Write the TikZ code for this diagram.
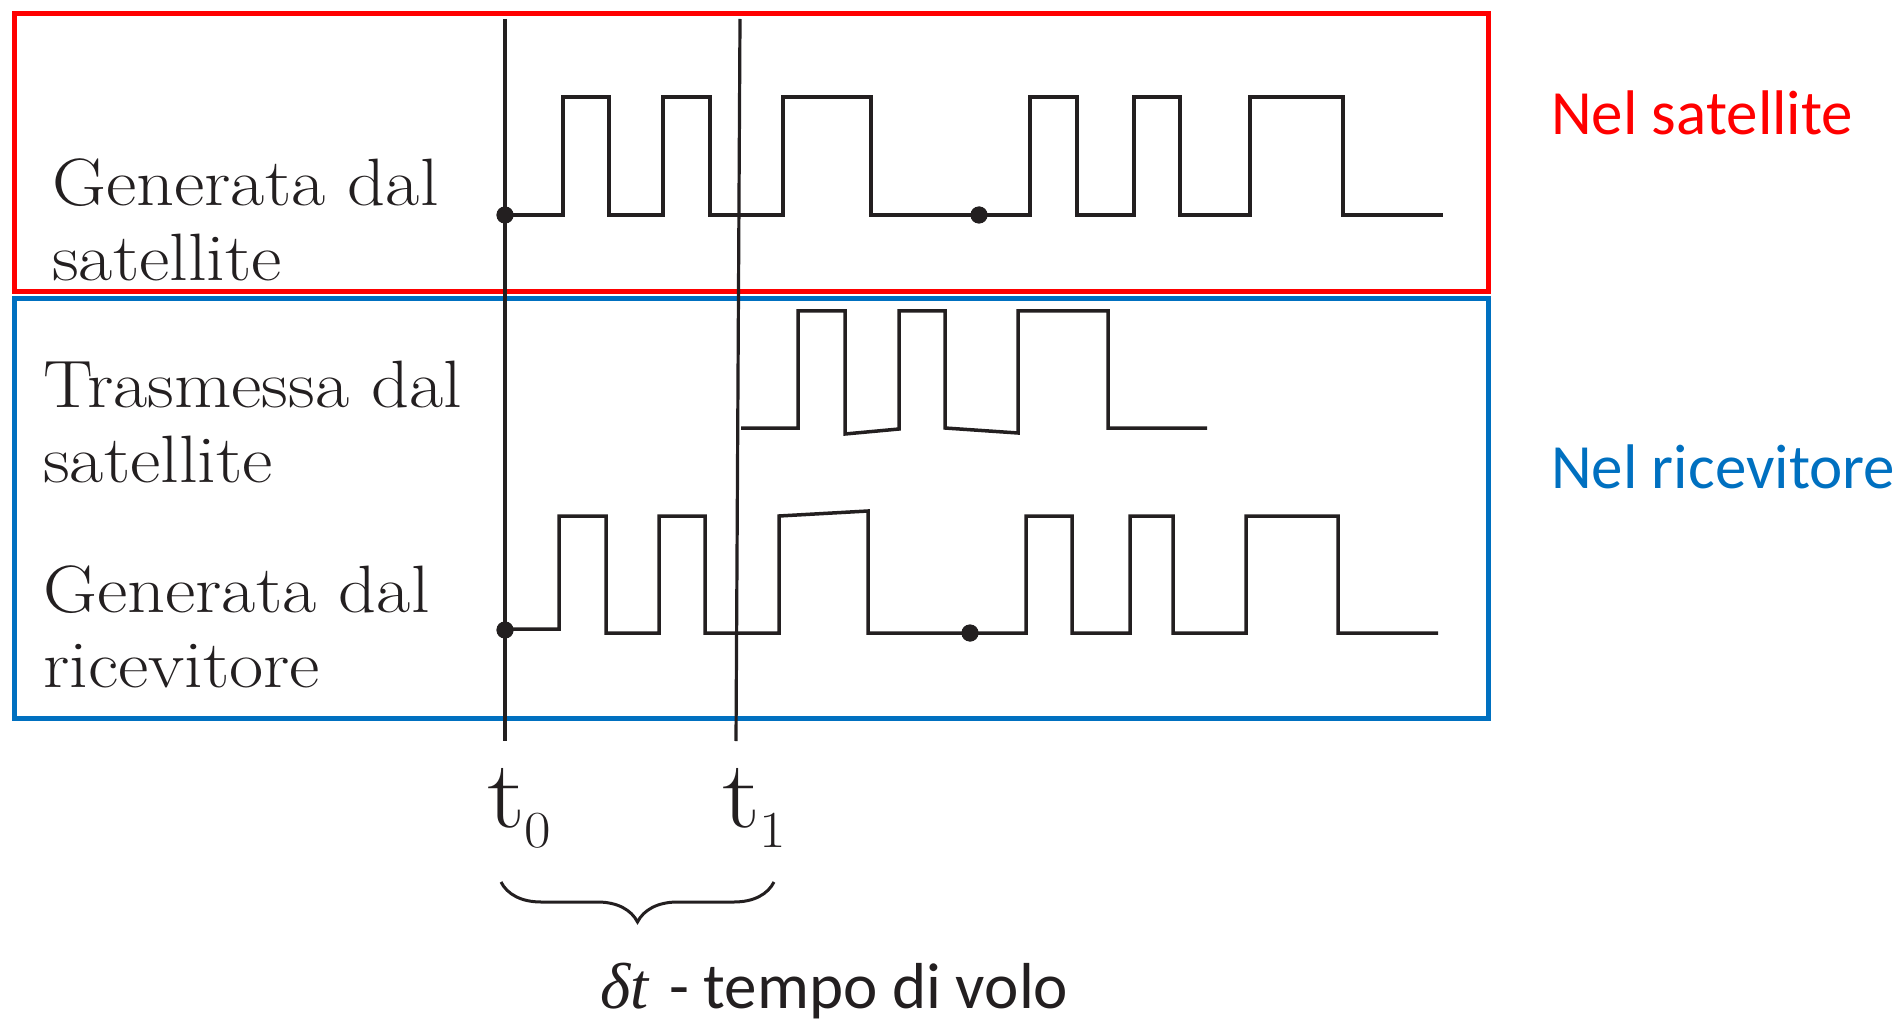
\documentclass[tikz,border=0pt]{standalone}
\usepackage{fontspec}
\newfontfamily\calibri{Carlito}
\newfontfamily\deltafont{Liberation Serif}
\newfontfamily\widefont[FakeStretch=1.11]{Latin Modern Roman}
\usepackage{xcolor}
\usetikzlibrary{decorations.pathreplacing}

\definecolor{ink}{RGB}{35,31,32}
\definecolor{satred}{RGB}{255,0,0}
\definecolor{ricblue}{RGB}{0,112,192}

% time label: big upright t with a lowered index
\newcommand{\tlab}[1]{{\fontsize{96}{96}\selectfont t}\raisebox{-20pt}{\fontsize{52}{52}\selectfont #1}}

\begin{document}
\begin{tikzpicture}[
      x=1pt, y=-1pt,
      frame/.style={draw, line width=5pt},
      sig/.style={draw=ink, line width=3.5pt},
      tline/.style={draw=ink, line width=3.2pt},
      dot/.style={circle, fill=ink, inner sep=0pt, minimum size=17pt},
      lbl/.style={font=\widefont\fontsize{67}{75}\selectfont, text=ink, align=left,
                  anchor=base west, inner sep=0pt},
      side/.style={font=\calibri\fontsize{63}{63}\selectfont, anchor=base west,
                   inner sep=0pt},
      tlbl/.style={font=\widefont, text=ink, anchor=base west, inner sep=0pt}]

    \useasboundingbox (0,0) rectangle (1901,1024);

    % the two places: satellite and receiver
    \draw[frame, satred] (14,14) rectangle (1488,292);
    \draw[frame, ricblue] (14,299) rectangle (1488,718);

    % anchors sit on the baseline of the second line
    \node[lbl] (gensat) at (52,281) {Generata dal\\satellite};
    \node[lbl] (trasat) at (43,482) {Trasmessa dal\\satellite};
    \node[lbl] (genric) at (43,687) {Generata dal\\ricevitore};

    \node[side, satred] (nelsat) at (1551,135) {Nel satellite};
    \node[side, ricblue] (nelric) at (1551,488) {Nel ricevitore};

    % time markers
    \coordinate (t0top) at (505,19);
    \coordinate (t0bot) at (505,741);
    \coordinate (t1top) at (740,19);
    \coordinate (t1bot) at (736,741);
    \draw[tline] (t0top) -- (t0bot);
    \draw[tline] (t1top) -- (t1bot);

    \node[tlbl] (t0) at (487,827) {\tlab{0}};
    \node[tlbl] (t1) at (722,827) {\tlab{1}};

    % code generated on board
    \node[dot] (s0) at (505,215) {};
    \node[dot] (s1) at (979,215) {};
    \draw[sig] (s0.center) -| (563,97) -| (609,215) -| (663,97) -| (710,215)
      -| (783,97) -| (871,215) -| (1030,97) -| (1077,215) -| (1134,97)
      -| (1180,215) -| (1250,97) -| (1343,215) -- (1443,215);
    \node[dot] at (s0) {};
    \node[dot] at (s1) {};

    % code as it arrives, delayed
    \coordinate (a0) at (741,428);
    \draw[sig] (a0) -| (798,311) -| (845,434) -- (899,429) |- (945,311)
      -- (945,428) -- (1018,433) |- (1108,311) -- (1108,428) -- (1207,428);

    % replica generated in the receiver
    \node[dot] (r0) at (505,630) {};
    \node[dot] (r1) at (970,633) {};
    \draw[sig] (r0.center) -- (505,629) -| (559,516) -| (606,633) -| (659,516)
      -| (705,633) -| (779,516) -- (868,511) -- (868,633) -| (1026,516)
      -| (1072,633) -| (1130,516) -| (1173,633) -| (1246,516) -| (1338,633)
      -- (1438,633);
    \node[dot] at (r0) {};
    \node[dot] at (r1) {};

    % flight time
    \coordinate (b0) at (501,882);
    \coordinate (b1) at (774,882);
    \draw[ink, line width=3pt, decorate,
          decoration={brace, amplitude=40pt, mirror}] (b0) -- (b1);
    \node[side, text=ink, font=\calibri\fontsize{65}{65}\selectfont] (volo)
      at (600,1008) {{\deltafont\itshape δt}\hspace{6pt} - tempo di volo};
  \end{tikzpicture}
\end{document}
